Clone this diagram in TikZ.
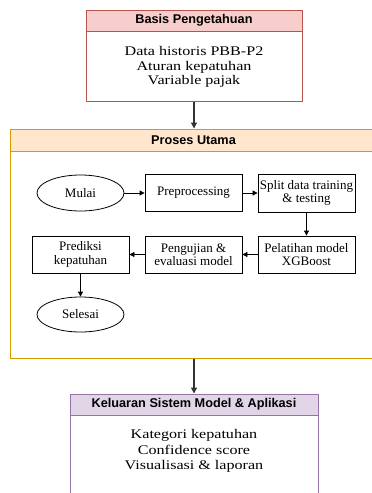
\documentclass[tikz,border=0pt]{standalone}
\usepackage{fontspec}
\setmainfont{Liberation Serif}
\setsansfont{Liberation Sans}
\newfontfamily\widefont{Liberation Serif}[FakeStretch=1.22]
\usetikzlibrary{arrows.meta,shapes.geometric}

\definecolor{basisfill}{HTML}{F8CECC}
\definecolor{basisline}{HTML}{B85450}
\definecolor{prosesfill}{HTML}{FFE6CC}
\definecolor{prosesline}{HTML}{D79B00}
\definecolor{keluaranfill}{HTML}{E1D5E7}
\definecolor{keluaranline}{HTML}{9673A6}

\begin{document}
\begin{tikzpicture}[x=1pt, y=1pt, node distance=113pt,
  block/.style={draw, line width=0.8pt, minimum width=97pt, minimum height=37pt, inner sep=1pt, align=center, font=\fontsize{13}{13.5}\selectfont},
  oval/.style={draw, ellipse, line width=0.8pt, minimum width=87pt, minimum height=36pt, inner sep=0pt, font=\fontsize{13}{13.5}\selectfont},
  panel/.style={draw, line width=1pt, fill=white},
  header/.style={draw, line width=1pt, inner sep=0pt, anchor=north, font=\sffamily\bfseries\fontsize{12.7}{14}\selectfont},
  body/.style={align=center, font=\widefont\fontsize{13.2}{14.3}\selectfont},
  flow/.style={-{Triangle[length=5pt,width=5pt]}, line width=0.8pt},
  link/.style={-{Triangle[length=6pt,width=6pt]}, line width=1.2pt, draw=black!80}]

  \useasboundingbox (0,0) rectangle (372,-493);
  \clip (0,0) rectangle (372,-493);

  % Basis pengetahuan
  \node[panel, draw=basisline, minimum width=216pt, minimum height=91pt] (basis) at (194,-55.5) {};
  \node[header, draw=basisline, fill=basisfill, minimum width=216pt, minimum height=21pt] (basisH) at (basis.north) {Basis Pengetahuan};
  \node[body] (basisT) at (194,-67) {Data historis PBB-P2\\Aturan kepatuhan\\Variable pajak};

  % Proses utama
  \node[panel, draw=prosesline, minimum width=367pt, minimum height=229pt] (proses) at (193.5,-243.5) {};
  \node[header, draw=prosesline, fill=prosesfill, minimum width=367pt, minimum height=22pt] (prosesH) at (proses.north) {Proses Utama};

  % Keluaran
  \node[panel, draw=keluaranline, minimum width=248pt, minimum height=120pt] (keluaran) at (194,-454) {};
  \node[header, draw=keluaranline, fill=keluaranfill, minimum width=248pt, minimum height=21pt] (keluaranH) at (keluaran.north) {Keluaran Sistem Model \& Aplikasi};
  \node[body, font=\widefont\fontsize{13.2}{15.8}\selectfont] (keluaranT) at (194,-451) {Kategori kepatuhan\\Confidence score\\Visualisasi \& laporan};

  % First row
  \node[oval] (mulai) at (80.5,-193) {Mulai};
  \node[block, right of=mulai] (prep) {Preprocessing};
  \node[block, right of=prep, minimum height=38pt] (split) {Split data training\\\& testing};

  % Second row
  \node[block, below of=split, node distance=61.5pt] (latih) {Pelatihan model\\XGBoost};
  \node[block, left of=latih] (uji) {Pengujian \&\\evaluasi model};
  \node[block, left of=uji] (prediksi) {Prediksi\\kepatuhan};
  \node[oval, below of=prediksi, node distance=60pt, minimum height=35pt] (selesai) {Selesai};

  % Flow arrows
  \draw[flow] (mulai.east) -- (prep.west);
  \draw[flow] (prep.east) -- (split.west);
  \draw[flow] (split.south) -- (latih.north);
  \draw[flow] (latih.west) -- (uji.east);
  \draw[flow] (uji.west) -- (prediksi.east);
  \draw[flow] (prediksi.south) -- (selesai.north);

  % Panel arrows
  \draw[link] (basis.south) -- (basis.south |- proses.north);
  \draw[link] (keluaran.north |- proses.south) -- (keluaran.north);

\end{tikzpicture}
\end{document}
